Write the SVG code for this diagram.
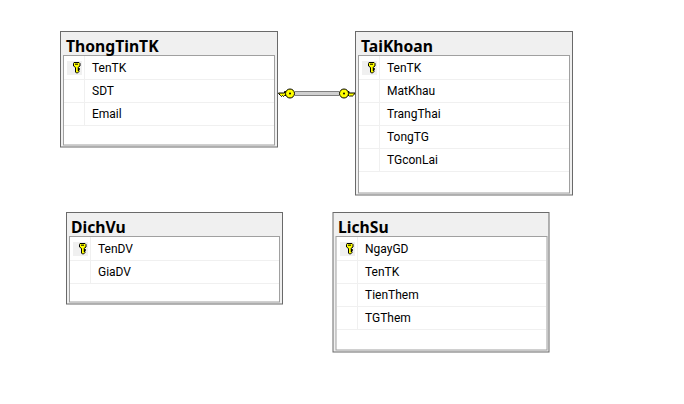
<svg xmlns="http://www.w3.org/2000/svg" width="684" height="404" viewBox="0 0 684 404">
<style>
.o{fill:#f0f0f0;stroke:#6a6a6a;stroke-width:1}
.i{fill:#fff;stroke:#a0a0a0;stroke-width:1}
.s{stroke:#f0f0f0;stroke-width:1;fill:none}
.kc{fill:#f0f0f0}
.t{font:700 15.700px "Noto Sans","Open Sans",sans-serif;fill:#000}
.r{font:12px Roboto,"Noto Sans",sans-serif;fill:#000}
.k{fill:#ffff00;stroke:#000;stroke-width:1}
</style>
<defs>
<g id="pk"><rect class="kc" x="-10" y="-7" width="15" height="14"/><path class="k" d="M-3.500-5.500h5l1 1v2.500l-2 1.500v1h1.500v1h-1.500v1h1v1l-1.500 1.500h-1l-1-1v-4.500l-2-1.500v-2.500z" transform="translate(.5 0)"/><path d="M-2-3.800h3" stroke="#000" fill="none"/></g>
</defs>
<g id="connectors">
<path d="M295 91.500h44M295 95.500h44" stroke="#808080" stroke-width="1" fill="none"/>
<path d="M295 93.500h44" stroke="#d0d0d0" stroke-width="3" fill="none"/>
<path class="k" d="M278.500 93h6v-1.500h2v4h-2l-1 1-1-1-1 1-1-1-1.500-1.500z"/>
<circle class="k" cx="290" cy="93.500" r="4.500"/><circle cx="290" cy="93.500" r="1"/>
<path class="k" d="M355 93h-6v-1.500h-2v4h2l1 1 1-1 1 1 1-1 1.500-1.500z"/>
<circle class="k" cx="344" cy="93.500" r="4.500"/><circle cx="344" cy="93.500" r="1"/>
</g>
<g id="ThongTinTK">
<rect class="o" x="60.500" y="31.500" width="217" height="115.500"/>
<rect class="i" x="63.500" y="55.500" width="211" height="89.500"/>
<path class="s" d="M64 79.500h210M64 102.500h210M64 125.500h210M84.500 56v69"/>
<text class="t" x="66" y="52">ThongTinTK</text>
<use href="#pk" x="77" y="68"/>
<text class="r" x="92" y="72">TenTK</text><text class="r" x="92" y="95">SDT</text><text class="r" x="92" y="118">Email</text>
</g>
<g id="TaiKhoan">
<rect class="o" x="355.500" y="31.500" width="217" height="163.500"/>
<rect class="i" x="358.500" y="55.500" width="211" height="137.500"/>
<path class="s" d="M359 79.500h210M359 102.500h210M359 125.500h210M359 148.500h210M359 171.500h210M379.500 56v115"/>
<text class="t" x="361" y="52">TaiKhoan</text>
<use href="#pk" x="372" y="68"/>
<text class="r" x="387" y="72">TenTK</text><text class="r" x="387" y="95">MatKhau</text><text class="r" x="387" y="118">TrangThai</text><text class="r" x="387" y="141">TongTG</text><text class="r" x="387" y="164">TGconLai</text>
</g>
<g id="DichVu">
<rect class="o" x="66.500" y="212.500" width="216" height="91.500"/>
<rect class="i" x="69.500" y="236.500" width="210" height="65.500"/>
<path class="s" d="M70 260.500h209M70 283.500h209M90.500 237v46"/>
<text class="t" x="71" y="233">DichVu</text>
<use href="#pk" x="83" y="249"/>
<text class="r" x="98" y="253">TenDV</text><text class="r" x="98" y="276">GiaDV</text>
</g>
<g id="LichSu">
<rect class="o" x="333" y="212.500" width="216" height="139.500"/>
<rect class="i" x="336" y="236.500" width="211" height="113.500"/>
<path class="s" d="M337 260.500h209M337 283.500h209M337 306.500h209M337 329.500h209M357.500 237v92"/>
<text class="t" x="338" y="233">LichSu</text>
<use href="#pk" x="350" y="249"/>
<text class="r" x="365" y="253">NgayGD</text><text class="r" x="365" y="276">TenTK</text><text class="r" x="365" y="299">TienThem</text><text class="r" x="365" y="322">TGThem</text>
</g>
</svg>
